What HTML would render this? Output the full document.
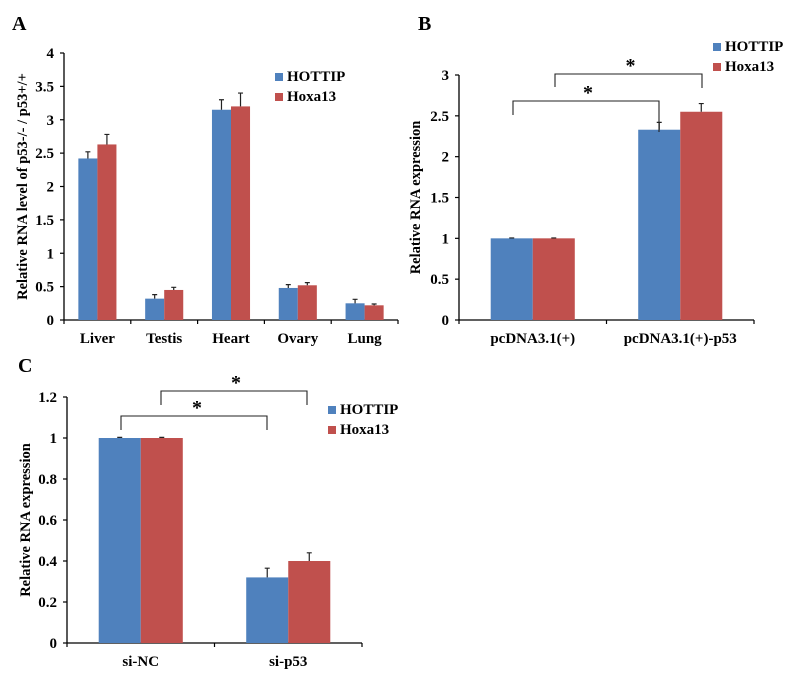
<!DOCTYPE html>
<html><head><meta charset="utf-8"><style>
html,body{margin:0;padding:0;background:#fff;}
svg{display:block;font-family:"Liberation Serif",serif;font-weight:bold;}
</style></head><body>
<svg id="fig" width="798" height="687" viewBox="0 0 798 687" xmlns="http://www.w3.org/2000/svg">
<text x="12" y="30" font-size="20">A</text>
<text x="418" y="30" font-size="20">B</text>
<text x="18" y="372" font-size="20">C</text>
</svg>
<script>
// Panel A data
const aCategories = ["Liver","Testis","Heart","Ovary","Lung"];
const aHottip = [2.42,0.32,3.15,0.48,0.25];
const aHottipErr = [0.10,0.06,0.15,0.05,0.06];
const aHoxa = [2.63,0.45,3.20,0.52,0.22];
const aHoxaErr = [0.15,0.04,0.20,0.04,0.02];
const aTicks = ["0","0.5","1","1.5","2","2.5","3","3.5","4"];
// Panel B data
const bCategories = ["pcDNA3.1(+)","pcDNA3.1(+)-p53"];
const bHottip = [1,2.33];
const bHottipErr = [0.005,0.09];
const bHoxa = [1,2.55];
const bHoxaErr = [0.005,0.10];
const bTicks = ["0","0.5","1","1.5","2","2.5","3"];
// Panel C data
const cCategories = ["si-NC","si-p53"];
const cHottip = [1,0.32];
const cHottipErr = [0.003,0.045];
const cHoxa = [1,0.40];
const cHoxaErr = [0.003,0.04];
const cTicks = ["0","0.2","0.4","0.6","0.8","1","1.2"];

const NS="http://www.w3.org/2000/svg";
const svg=document.getElementById('fig');
function mk(tag,attrs,parent,text){const e=document.createElementNS(NS,tag);for(const k in attrs)e.setAttribute(k,attrs[k]);if(text!==undefined)e.textContent=text;(parent||svg).appendChild(e);return e;}

function drawChart(p){
  const g=mk('g',{});
  
  
  const tmax=parseFloat(p.ticks[p.ticks.length-1]);
  const ys=v=>p.y0-(v/tmax)*(p.y0-p.yTop);
  const n=p.cats.length;const cw=(p.x1-p.x0)/n;
  // y-axis
  const ya=mk('line',{x1:p.x0,y1:p.yTop,x2:p.x0,y2:p.y0,stroke:'#000','stroke-width':1.3},g);
  
  
  p.ticks.forEach(t=>{const v=parseFloat(t),y=ys(v);
    mk('line',{x1:p.x0-4,y1:y,x2:p.x0,y2:y,stroke:'#000','stroke-width':1.2},g);
    const tl=mk('text',{x:p.x0-10,y:y+5,'font-size':15,'text-anchor':'end'},g,t);
    
    
  });
  const yt=mk('text',{x:0,y:0,'font-size':p.titleSize,'text-anchor':'middle',transform:`translate(${p.titleX},${(p.y0+p.yTop)/2}) rotate(-90)`},g,p.title);
  
  
  // x-axis
  const xa=mk('line',{x1:p.x0,y1:p.y0,x2:p.x1,y2:p.y0,stroke:'#000','stroke-width':1.3},g);
  
  
  for(let i=0;i<=n;i++){const x=p.x0+i*cw;mk('line',{x1:x,y1:p.y0,x2:x,y2:p.y0+4,stroke:'#000','stroke-width':1.2},g);}
  const bw=cw*p.gw/2;
  const series=[[p.s1,p.e1,'#4f81bd','hottip'],[p.s2,p.e2,'#c0504d','hoxa13']];
  p.cats.forEach((c,i)=>{
    const cx=p.x0+(i+0.5)*cw;
    const cl=mk('text',{x:cx,y:p.y0+23,'font-size':15,'text-anchor':'middle'},g,c);
    
    
    series.forEach((s,k)=>{
      const x=cx-bw+k*bw,v=s[0][i],y=ys(v);
      const r=mk('rect',{x:x,y:y,width:bw,height:p.y0-y,fill:s[2]},g);
      
      
      const ey=ys(v+s[1][i]);const mx=x+bw/2;
      const eb=mk('path',{d:`M${mx},${y}V${ey}M${mx-2.5},${ey}H${mx+2.5}`,stroke:'#222','stroke-width':1.2,fill:'none'},g);
      
      
    });
  });
  // legend
  const names=['HOTTIP','Hoxa13'],cols=['#4f81bd','#c0504d'];
  names.forEach((nm,k)=>{const ly=p.legY+k*20;
    const sw=mk('rect',{x:p.legX,y:ly-8,width:8,height:8,fill:cols[k]},g);
    
    
    const lt=mk('text',{x:p.legX+12,y:ly,'font-size':15},g,nm);
    
    
  });
  // significance brackets
  (p.brackets||[]).forEach(b=>{
    const bp=mk('path',{d:`M${b[0]},${b[3]}V${b[2]}H${b[1]}V${b[4]}`,stroke:'#222','stroke-width':1.1,fill:'none'},g);
    
    
    const st=mk('text',{x:(b[0]+b[1])/2+b[5],y:b[2]-2,'font-size':20,'text-anchor':'middle'},g,'*');
    
    
  });
}

drawChart({id:'panel-a',cats:aCategories,s1:aHottip,e1:aHottipErr,s2:aHoxa,e2:aHoxaErr,ticks:aTicks,
  x0:64,x1:398,y0:320,yTop:53,gw:0.57,title:'Relative RNA level of p53-/- / p53+/+',titleX:27,titleSize:14.5,legX:275,legY:81});
drawChart({id:'panel-b',cats:bCategories,s1:bHottip,e1:bHottipErr,s2:bHoxa,e2:bHoxaErr,ticks:bTicks,
  x0:459,x1:754,y0:320,yTop:75,gw:0.57,title:'Relative RNA expression',titleX:420,titleSize:14.5,legX:713,legY:51,
  brackets:[[513,659,101,115,132,2],[555,702,74,87,88,2]]});
drawChart({id:'panel-c',cats:cCategories,s1:cHottip,e1:cHottipErr,s2:cHoxa,e2:cHoxaErr,ticks:cTicks,
  x0:67,x1:362,y0:643,yTop:397,gw:0.57,title:'Relative RNA expression',titleX:30,titleSize:14.5,legX:328,legY:414,
  brackets:[[121,267,416,430,430,3],[161,307,391,405,405,2]]});
</script>
</body></html>
